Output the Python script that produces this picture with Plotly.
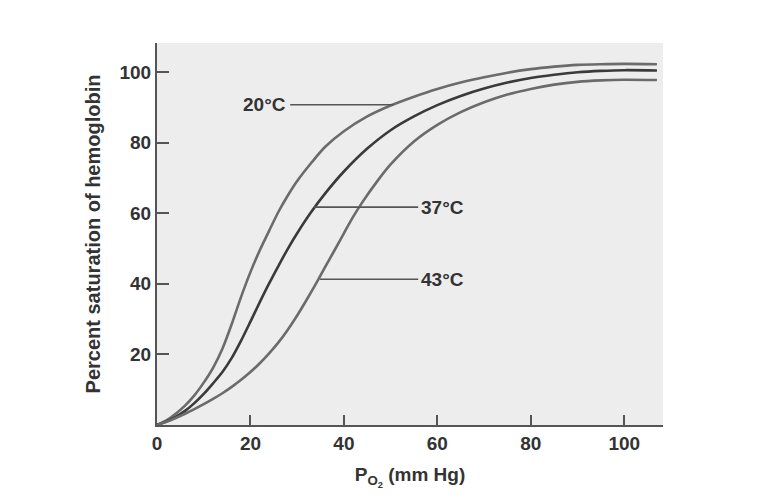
import plotly.graph_objects as go

# P_O2 (mm Hg) and percent saturation of hemoglobin
x_20 = [0, 2, 4, 6, 8, 10, 12, 14, 16, 18, 20, 22, 24, 26, 28, 30, 33, 36, 40, 45, 50, 55, 60, 65, 70, 75, 80, 85, 90, 95, 100, 107]
y_20 = [0, 1.3, 3.2, 5.5, 8.4, 12.0, 16.2, 21.6, 28.6, 36.3, 43.3, 49.5, 55.0, 60.4, 65.0, 69.1, 74.2, 78.8, 83.2, 87.4, 90.5, 93.0, 95.2, 97.0, 98.5, 99.8, 100.8, 101.5, 102.0, 102.2, 102.3, 102.2]

x_37 = [0, 2, 4, 6, 8, 10, 12, 14, 16, 18, 20, 22, 24, 26, 28, 30, 33, 36, 40, 45, 50, 55, 60, 65, 70, 75, 80, 85, 90, 95, 100, 107]
y_37 = [0, 1.0, 2.3, 4.0, 6.2, 8.8, 11.8, 15.0, 19.0, 23.9, 29.3, 34.8, 40.1, 45.1, 49.9, 54.3, 60.3, 65.6, 71.8, 78.3, 83.5, 87.4, 90.6, 93.2, 95.3, 97.0, 98.3, 99.2, 99.9, 100.3, 100.5, 100.4]

x_43 = [0, 2, 4, 6, 8, 10, 12, 14, 16, 18, 20, 22, 24, 26, 28, 30, 32, 34, 36, 38, 40, 42, 44, 47, 50, 55, 60, 65, 70, 75, 80, 85, 90, 95, 100, 107]
y_43 = [0, 0.9, 2.0, 3.2, 4.5, 5.9, 7.4, 9.0, 10.8, 12.8, 15.0, 17.5, 20.3, 23.4, 27.0, 31.0, 35.4, 40.0, 44.8, 49.5, 54.3, 59.0, 63.2, 68.8, 73.8, 80.3, 85.0, 88.6, 91.4, 93.6, 95.2, 96.4, 97.2, 97.6, 97.8, 97.7]

curve_names = ["20°C", "37°C", "43°C"]
curve_colors = ["#6b6b6b", "#3a3a3a", "#6b6b6b"]

# label leader lines (data coords)
leader_x0 = [28.5, 33.6, 34.9]
leader_x1 = [50.6, 55.9, 55.9]
leader_y = [90.7, 61.7, 41.3]

x_ticks = [0, 20, 40, 60, 80, 100]
y_ticks = [20, 40, 60, 80, 100]

FAM = "Liberation Sans, Arial, sans-serif"
TXT = "#333333"

fig = go.Figure()
for xs, ys, name, col in zip([x_20, x_37, x_43], [y_20, y_37, y_43], curve_names, curve_colors):
    fig.add_trace(go.Scatter(x=xs, y=ys, mode="lines", name=name,
                             line=dict(color=col, width=2.6, shape="spline", smoothing=0.8),
                             showlegend=False, hoverinfo="skip"))

font_lbl = dict(family=FAM, size=19, color=TXT)

for i, name in enumerate(curve_names):
    fig.add_shape(type="line", x0=leader_x0[i], x1=leader_x1[i], y0=leader_y[i], y1=leader_y[i],
                  xref="x", yref="y", line=dict(color="#555555", width=1.6))
    if i == 0:
        fig.add_annotation(x=leader_x0[i], y=leader_y[i], text="<b>%s</b>" % name, showarrow=False,
                           xanchor="right", xshift=-2, font=font_lbl)
    else:
        fig.add_annotation(x=leader_x1[i], y=leader_y[i], text="<b>%s</b>" % name, showarrow=False,
                           xanchor="left", xshift=1, font=font_lbl)

fig.update_layout(
    width=758, height=500,
    margin=dict(l=157, r=95, t=43, b=75),
    paper_bgcolor="white",
    plot_bgcolor="#ededed",
    font=dict(family=FAM, size=19, color=TXT),
)
fig.update_xaxes(range=[0, 108.3], tickvals=x_ticks, ticktext=["<b>%d</b>" % v for v in x_ticks],
                 tickfont=dict(family=FAM, size=19, color=TXT),
                 ticks="inside", ticklen=10, tickwidth=2, tickcolor="#555555",
                 showline=True, linecolor="#555555", linewidth=2, showgrid=False, zeroline=False,
                 title=dict(text="<b>P<sub>O<sub>2</sub></sub> (mm Hg)</b>",
                            font=dict(family=FAM, size=19, color=TXT), standoff=15))
fig.update_yaxes(range=[0, 108.2], tickvals=y_ticks, ticktext=["<b>%d</b>" % v for v in y_ticks],
                 tickfont=dict(family=FAM, size=19, color=TXT),
                 ticks="inside", ticklen=12, tickwidth=2, tickcolor="#555555",
                 showline=True, linecolor="#555555", linewidth=2, showgrid=False, zeroline=False,
                 title=dict(text="<b>Percent saturation of hemoglobin</b>",
                            font=dict(family=FAM, size=20, color=TXT), standoff=13))

fig.write_html("out.html")
